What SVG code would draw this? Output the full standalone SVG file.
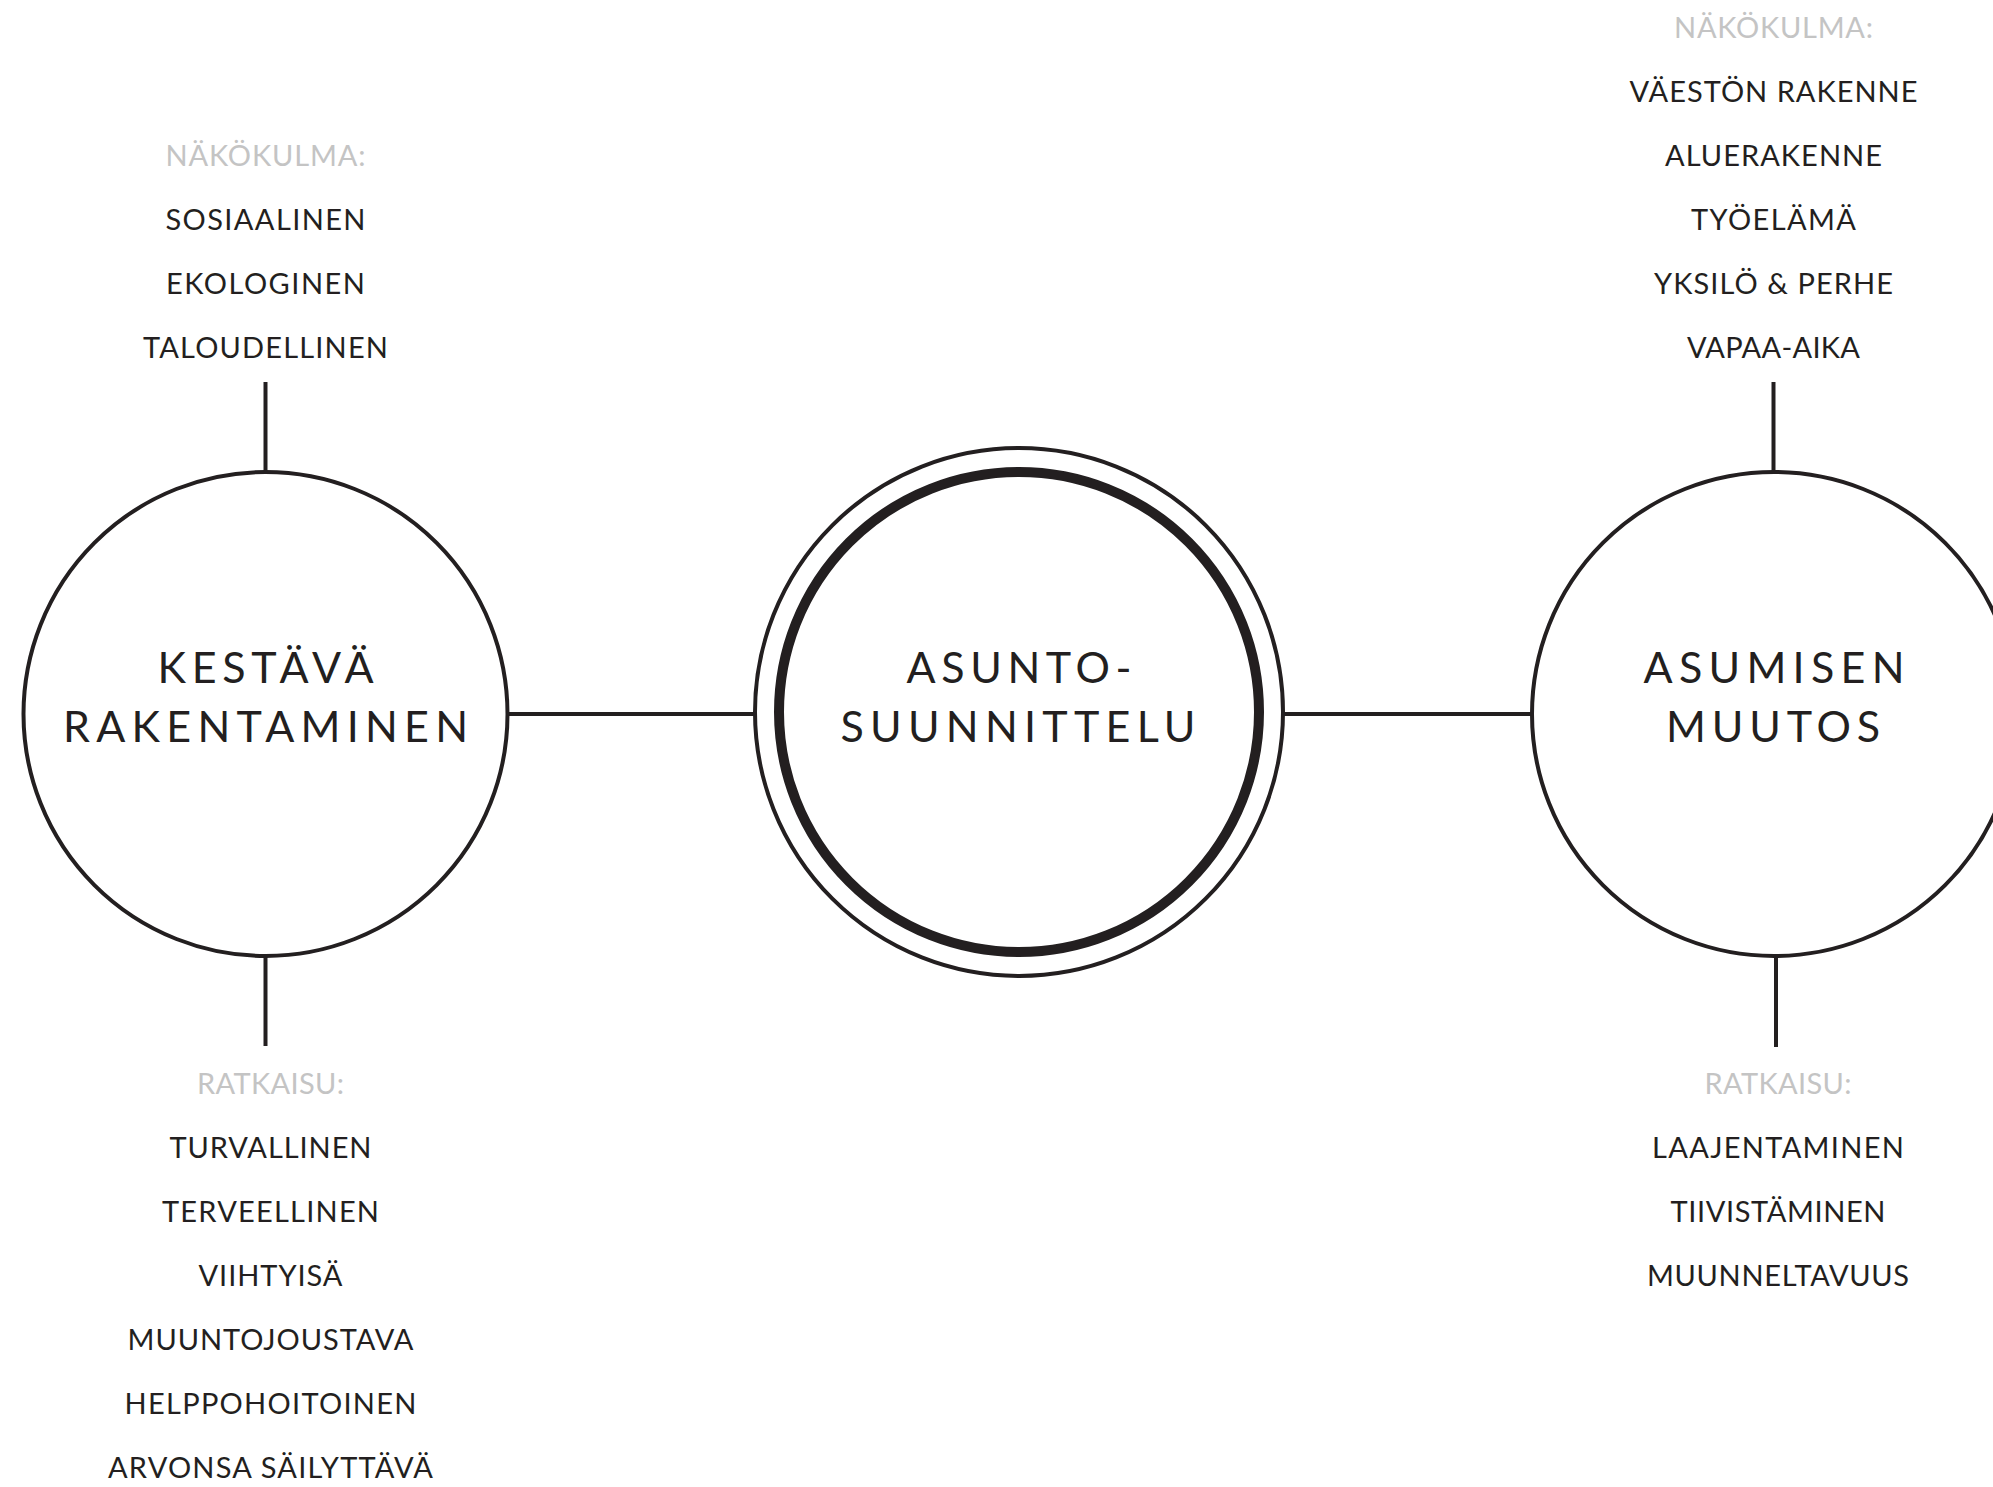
<svg xmlns="http://www.w3.org/2000/svg" width="1993" height="1487" viewBox="0 0 1993 1487">
<style>
  .bg { fill: #ffffff; }
  .ring { fill: #ffffff; stroke: #231f20; stroke-width: 4; }
  .thick { fill: none; stroke: #231f20; stroke-width: 10; }
  .conn { stroke: #231f20; stroke-width: 4; fill: none; }
  .item { font-family: Lato, "Liberation Sans", sans-serif; font-size: 29px; fill: #231f20; text-anchor: middle; }
  .head { font-family: Lato, "Liberation Sans", sans-serif; font-size: 29px; fill: #c4c4c4; text-anchor: middle; }
  .big { font-family: Lato, "Liberation Sans", sans-serif; font-size: 43px; font-weight: 400; fill: #231f20; text-anchor: middle; }
</style>
<rect class="bg" x="0" y="0" width="1993" height="1487"/>
<g id="connectors">
  <line class="conn" x1="265.5" y1="382" x2="265.5" y2="472"/>
  <line class="conn" x1="265.5" y1="956" x2="265.5" y2="1046"/>
  <line class="conn" x1="1773.5" y1="382" x2="1773.5" y2="472"/>
  <line class="conn" x1="1776" y1="956" x2="1776" y2="1047"/>
  <line class="conn" x1="507" y1="714" x2="779" y2="714"/>
  <line class="conn" x1="1259" y1="714" x2="1532" y2="714"/>
</g>
<g id="node-kestava">
  <circle class="ring" cx="265.5" cy="714" r="242"/>
  <text class="big" x="265.5" y="683" textLength="216" lengthAdjust="spacing">KESTÄVÄ</text>
  <text class="big" x="265.5" y="742" textLength="405" lengthAdjust="spacing">RAKENTAMINEN</text>
</g>
<g id="node-asuntosuunnittelu">
  <circle class="ring" cx="1019" cy="712" r="264"/>
  <circle class="thick" cx="1019" cy="712" r="240"/>
  <text class="big" x="1019" y="683" textLength="225" lengthAdjust="spacing">ASUNTO-</text>
  <text class="big" x="1018" y="742" textLength="355" lengthAdjust="spacing">SUUNNITTELU</text>
</g>
<g id="node-asumisen-muutos">
  <circle class="ring" cx="1774" cy="714" r="242"/>
  <text class="big" x="1774" y="683" textLength="261" lengthAdjust="spacing">ASUMISEN</text>
  <text class="big" x="1773" y="742" textLength="214" lengthAdjust="spacing">MUUTOS</text>
</g>
<g id="list-kestava-nakokulma">
  <text class="head" x="265.5" y="166" textLength="200" lengthAdjust="spacing">NÄKÖKULMA:</text>
  <text class="item" x="265.5" y="230" textLength="200" lengthAdjust="spacing">SOSIAALINEN</text>
  <text class="item" x="265.5" y="294" textLength="199" lengthAdjust="spacing">EKOLOGINEN</text>
  <text class="item" x="265.5" y="358" textLength="245" lengthAdjust="spacing">TALOUDELLINEN</text>
</g>
<g id="list-kestava-ratkaisu">
  <text class="head" x="270.5" y="1094" textLength="147" lengthAdjust="spacing">RATKAISU:</text>
  <text class="item" x="270.5" y="1158" textLength="202" lengthAdjust="spacing">TURVALLINEN</text>
  <text class="item" x="270.5" y="1222" textLength="217" lengthAdjust="spacing">TERVEELLINEN</text>
  <text class="item" x="270.5" y="1286" textLength="144" lengthAdjust="spacing">VIIHTYISÄ</text>
  <text class="item" x="270.5" y="1350" textLength="286" lengthAdjust="spacing">MUUNTOJOUSTAVA</text>
  <text class="item" x="270.5" y="1414" textLength="292" lengthAdjust="spacing">HELPPOHOITOINEN</text>
  <text class="item" x="270.5" y="1478" textLength="325" lengthAdjust="spacing">ARVONSA SÄILYTTÄVÄ</text>
</g>
<g id="list-muutos-nakokulma">
  <text class="head" x="1773.5" y="38" textLength="199" lengthAdjust="spacing">NÄKÖKULMA:</text>
  <text class="item" x="1773.5" y="102" textLength="288" lengthAdjust="spacing">VÄESTÖN RAKENNE</text>
  <text class="item" x="1773.5" y="166" textLength="217" lengthAdjust="spacing">ALUERAKENNE</text>
  <text class="item" x="1773.5" y="230" textLength="165" lengthAdjust="spacing">TYÖELÄMÄ</text>
  <text class="item" x="1773.5" y="294" textLength="239" lengthAdjust="spacing">YKSILÖ &amp; PERHE</text>
  <text class="item" x="1773.5" y="358" textLength="173" lengthAdjust="spacing">VAPAA-AIKA</text>
</g>
<g id="list-muutos-ratkaisu">
  <text class="head" x="1778" y="1094" textLength="147" lengthAdjust="spacing">RATKAISU:</text>
  <text class="item" x="1778" y="1158" textLength="252" lengthAdjust="spacing">LAAJENTAMINEN</text>
  <text class="item" x="1778" y="1222" textLength="215" lengthAdjust="spacing">TIIVISTÄMINEN</text>
  <text class="item" x="1778" y="1286" textLength="262" lengthAdjust="spacing">MUUNNELTAVUUS</text>
</g>
</svg>
